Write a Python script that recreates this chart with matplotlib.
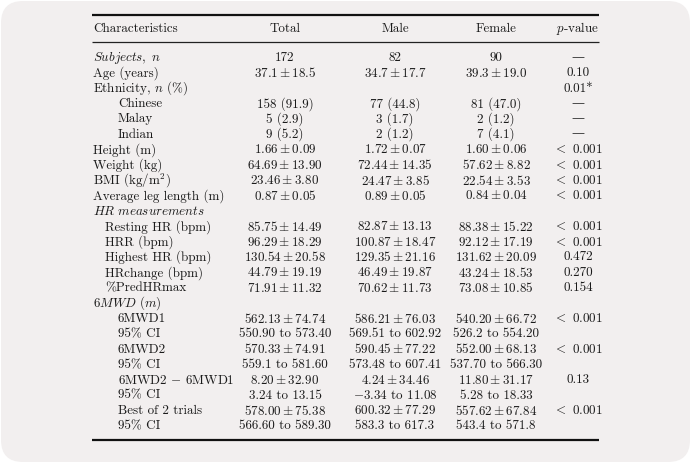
import matplotlib
matplotlib.use('Agg')
import matplotlib.pyplot as plt
from matplotlib.patches import FancyBboxPatch

plt.rcParams['mathtext.fontset'] = 'cm'
plt.rcParams['font.family'] = ['cmr10', 'DejaVu Serif']
plt.rcParams['axes.unicode_minus'] = False

# table content
header = ['Characteristics', 'Total', 'Male', 'Female', '$p$-value']

labels = [
    r'$\mathit{Subjects},\ n$', 'Age (years)', 'Ethnicity, $n$ (%)',
    'Chinese', 'Malay', 'Indian',
    'Height (m)', 'Weight (kg)', 'BMI (kg/m$^2$)', 'Average leg length (m)',
    r'$\mathit{HR\ measurements}$',
    'Resting HR (bpm)', 'HRR (bpm)', 'Highest HR (bpm)', 'HRchange (bpm)', '%PredHRmax',
    r'$\mathit{6MWD\ (m)}$',
    '6MWD1', '95% CI', '6MWD2', '95% CI', '6MWD2 $-$ 6MWD1', '95% CI',
    'Best of 2 trials', '95% CI',
]

total = ['172', '37.1 ± 18.5', '', '158 (91.9)', '5 (2.9)', '9 (5.2)',
         '1.66 ± 0.09', '64.69 ± 13.90', '23.46 ± 3.80', '0.87 ± 0.05', '',
         '85.75 ± 14.49', '96.29 ± 18.29', '130.54 ± 20.58', '44.79 ± 19.19', '71.91 ± 11.32', '',
         '562.13 ± 74.74', '550.90 to 573.40', '570.33 ± 74.91', '559.1 to 581.60',
         '8.20 ± 32.90', '3.24 to 13.15', '578.00 ± 75.38', '566.60 to 589.30']

male = ['82', '34.7 ± 17.7', '', '77 (44.8)', '3 (1.7)', '2 (1.2)',
        '1.72 ± 0.07', '72.44 ± 14.35', '24.47 ± 3.85', '0.89 ± 0.05', '',
        '82.87 ± 13.13', '100.87 ± 18.47', '129.35 ± 21.16', '46.49 ± 19.87', '70.62 ± 11.73', '',
        '586.21 ± 76.03', '569.51 to 602.92', '590.45 ± 77.22', '573.48 to 607.41',
        '4.24 ± 34.46', '−3.34 to 11.08', '600.32 ± 77.29', '583.3 to 617.3']

female = ['90', '39.3 ± 19.0', '', '81 (47.0)', '2 (1.2)', '7 (4.1)',
          '1.60 ± 0.06', '57.62 ± 8.82', '22.54 ± 3.53', '0.84 ± 0.04', '',
          '88.38 ± 15.22', '92.12 ± 17.19', '131.62 ± 20.09', '43.24 ± 18.53', '73.08 ± 10.85', '',
          '540.20 ± 66.72', '526.2 to 554.20', '552.00 ± 68.13', '537.70 to 566.30',
          '11.80 ± 31.17', '5.28 to 18.33', '557.62 ± 67.84', '543.4 to 571.8']

pvals = ['—', '0.10', '0.01*', '—', '—', '—',
         '< 0.001', '< 0.001', '< 0.001', '< 0.001', '',
         '< 0.001', '< 0.001', '0.472', '0.270', '0.154', '',
         '< 0.001', '', '< 0.001', '', '0.13', '', '< 0.001', '']

# indentation of the first column (layout only)
indent = [0, 0, 0, 25, 25, 25, 0, 0, 0, 0, 0,
          12, 12, 12, 12, 12, 0,
          25, 25, 25, 25, 25, 25, 25, 25]


def fmt(s):
    # mean ± sd as math, like a LaTeX table; the rest as plain text
    if '±' in s:
        return '$' + s.replace('±', r'\pm').replace(' ', '') + '$'
    s = s.replace('−', '$-$').replace('<', '$<$')
    return s


W, H = 691, 463
fig = plt.figure(figsize=(W / 100, H / 100), dpi=100)
ax = fig.add_axes([0, 0, 1, 1])
ax.set_xlim(0, W)
ax.set_ylim(H, 0)
ax.axis('off')

card = FancyBboxPatch((18, 18), W - 36, H - 36, boxstyle='round,pad=17,rounding_size=22',
                      fc='#f2efef', ec='none')
ax.add_patch(card)

txt = '#1a1a1a'
fs = 9.4
x_left, x_right = 92, 599
col_x = [285, 395, 496, 578]
y_top, y_mid, y_bot = 15, 42, 440
y_head = 28.5
y0, dy = 57.8, 15.35

ax.plot([x_left, x_right], [y_top, y_top], color='#111', lw=1.6, solid_capstyle='butt')
ax.plot([x_left, x_right], [y_mid, y_mid], color='#222', lw=0.9, solid_capstyle='butt')
ax.plot([x_left, x_right], [y_bot, y_bot], color='#111', lw=1.6, solid_capstyle='butt')

ax.text(x_left + 1, y_head, header[0], ha='left', va='center', fontsize=fs, color=txt)
for cx, h in zip(col_x, header[1:]):
    ax.text(cx, y_head, h, ha='center', va='center', fontsize=fs, color=txt)

for i, lab in enumerate(labels):
    y = y0 + i * dy
    ax.text(x_left + 1 + indent[i], y, lab, ha='left', va='center', fontsize=fs, color=txt)
    for cx, col in zip(col_x, [total, male, female, pvals]):
        if col[i]:
            ax.text(cx, y, fmt(col[i]), ha='center', va='center', fontsize=fs, color=txt)

fig.savefig('out.png', dpi=100, facecolor='white')
